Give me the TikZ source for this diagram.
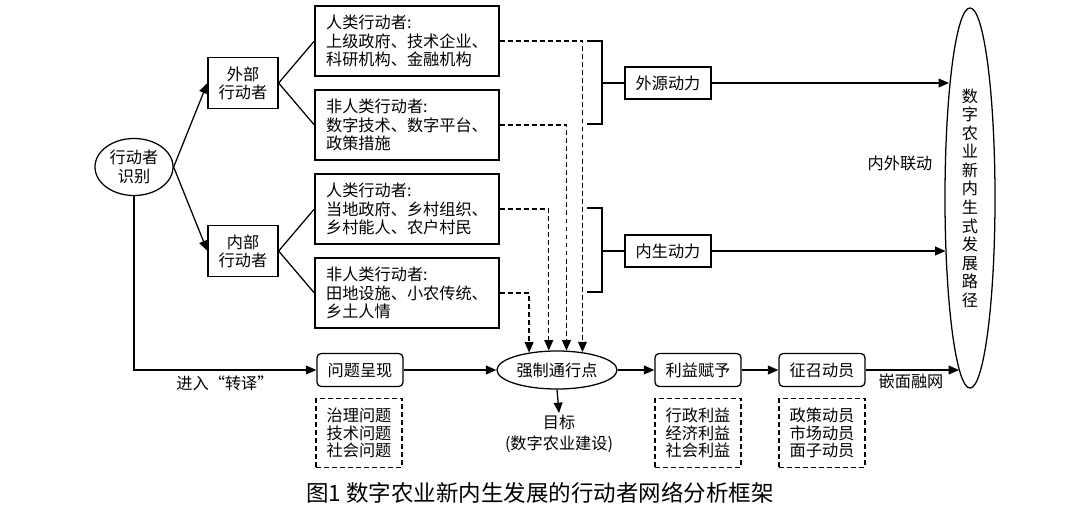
\documentclass[tikz,border=0pt]{standalone}
\usepackage{fontspec}
\setmainfont{Noto Sans CJK SC}
\usetikzlibrary{arrows.meta,shapes.geometric,calc}

\begin{document}
\begin{tikzpicture}[x=0.025cm,y=-0.025cm,line width=0.9pt,
	  font=\fontsize{11.5}{13}\selectfont,
	  >={Triangle[length=2.6mm,width=2.2mm]},
	  dashln/.style={dash pattern=on 3.5pt off 2.2pt},
	  actor/.style={draw,align=left,minimum width=4.6cm,minimum height=1.75cm,inner sep=1pt},
	  group/.style={draw,align=center,minimum width=1.75cm,minimum height=1.275cm,inner sep=1pt},
	  force/.style={draw,minimum width=2.15cm,minimum height=0.8cm,inner sep=1pt},
	  stage/.style={draw,rounded corners=3pt,minimum width=2.15cm,minimum height=0.825cm,inner sep=1pt},
	  detail/.style={draw,dashln,align=center,minimum width=2.15cm,minimum height=1.725cm,inner sep=1pt,font=\fontsize{11.5}{12.5}\selectfont},
	  ]
	  \useasboundingbox (0,0) rectangle (1080,520);
	  % actors
	  \node[ellipse,draw,align=center,minimum width=1.95cm,minimum height=1.425cm,inner sep=0pt] (sb) at (134,167) {行动者\\识别};
	  \node[group] (wb) at (243,83) {外部\\行动者};
	  \node[group] (nb) at (243,251) {内部\\行动者};
	  \node[actor] (b1) at (407,41) {人类行动者:\\上级政府、技术企业、\\科研机构、金融机构};
	  \node[actor] (b2) at (407,125) {非人类行动者:\\数字技术、数字平台、\\政策措施};
	  \node[actor] (b3) at (407,209) {人类行动者:\\当地政府、乡村组织、\\乡村能人、农户村民};
	  \node[actor] (b4) at (407,293) {非人类行动者:\\田地设施、小农传统、\\乡土人情};
	  \node[force] (wy) at (668,83) {外源动力};
	  \node[force] (ns) at (668,251) {内生动力};
	  \node[ellipse,draw,align=center,minimum width=1.25cm,minimum height=9.5cm,inner sep=0pt,font=\fontsize{11.5}{13.2}\selectfont] (lj) at (970,198) {数\\字\\农\\业\\新\\内\\生\\式\\发\\展\\路\\径};
	  % translation
	  \node[stage] (wt) at (360,370) {问题呈现};
	  \node[ellipse,draw,minimum width=3cm,minimum height=0.95cm,inner sep=0pt] (qz) at (557,370) {强制通行点};
	  \node[stage] (ly) at (698,370) {利益赋予};
	  \node[stage] (zz) at (822,370) {征召动员};
	  \node[detail] (d1) at (359,433) {治理问题\\技术问题\\社会问题};
	  \node[detail] (d2) at (698,433) {行政利益\\经济利益\\社会利益};
	  \node[detail] (d3) at (822,433) {政策动员\\市场动员\\面子动员};
	  \node[align=center,inner sep=1pt,font=\fontsize{11.5}{15}\selectfont] (mb) at (559,434) {目标\\(数字农业建设)};
	  \node (lb1) at (225,383) {进入“转译”};
	  \node (lb2) at (911,381) {嵌面融网};
	  \node (lb3) at (900,163) {内外联动};
	  \node[font=\fontsize{16}{18}\selectfont] (cap) at (540,493) {图1 数字农业新内生发展的行动者网络分析框架};
	  % brackets
	  \coordinate (k1) at (587,41);
	  \coordinate (k2) at (587,124);
	  \coordinate (kx1) at (602,83);
	  \coordinate (k3) at (587,208);
	  \coordinate (k4) at (587,292);
	  \coordinate (kx2) at (602,251);
	  \draw (k1) -| (kx1) |- (k2);
	  \draw (k3) -| (kx2) |- (k4);
	  \draw (kx1) -- (wy.west);
	  \draw (kx2) -- (ns.west);
	  % points on the path ellipse
	  \coordinate (lj1) at ($(lj.center)+(-21,-115)$);
	  \coordinate (lj2) at ($(lj.center)+(-24.5,53)$);
	  \coordinate (lj3) at ($(lj.center)+(-11,172)$);
	  % links
	  \draw[->] (sb.east) -- (wb.west);
	  \draw[->] (sb.east) -- (nb.west);
	  \draw (wb.east) -- (b1.west);
	  \draw (wb.east) -- (b2.west);
	  \draw (nb.east) -- (b3.west);
	  \draw (nb.east) -- (b4.west);
	  \draw[->] (sb.south) |- (wt.west);
	  \draw[->] (wt) -- (qz);
	  \draw[->] (qz) -- (ly);
	  \draw[->] (ly) -- (zz);
	  \draw[->] (qz.south) -- (mb.north);
	  \draw[->] (wy.east) -- (lj1);
	  \draw[->] (ns.east) -- (lj2);
	  \draw[->] (zz.east) -- (lj3);
	  \draw[dashln,->] (b1.east) -| (qz.35);
	  \draw[dashln,->] (b2.east) -| (qz.64);
	  \draw[dashln,->] (b3.east) -| (qz.113);
	  \draw[dashln,->] (b4.east) -| (qz.148);
\end{tikzpicture}
\end{document}
